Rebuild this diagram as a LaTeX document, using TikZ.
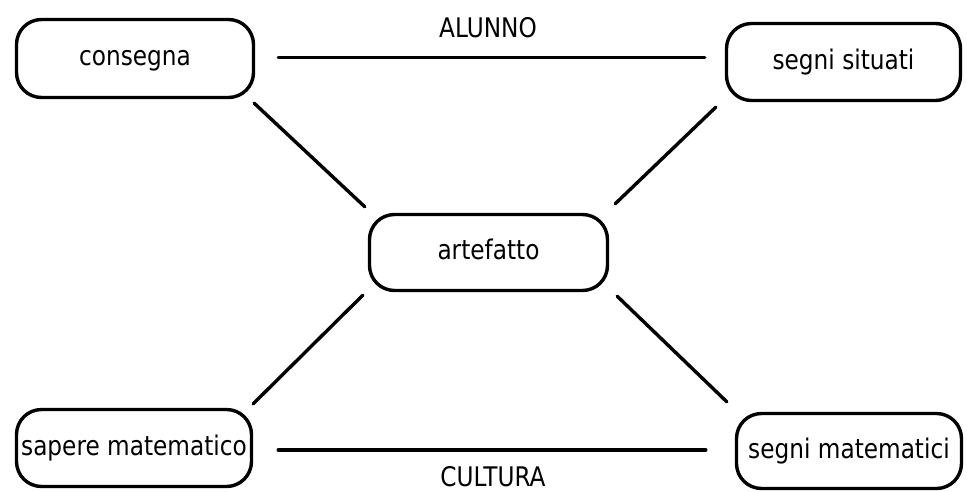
\documentclass[tikz,border=0pt]{standalone}
\usepackage{fontspec}
\setmainfont{DejaVu Sans}[FakeStretch=0.86]
\begin{document}
\begin{tikzpicture}[x=1pt,y=-1pt,
  concept/.style={draw, line width=3.4pt, rounded corners=25pt, inner sep=0pt,
    text height=14.7pt, text depth=0pt, font=\fontsize{27}{32}\selectfont},
  link/.style={line width=3.4pt, line cap=round},
  tag/.style={anchor=base, inner sep=0pt, font=\fontsize{27}{32}\selectfont}]
\useasboundingbox (0,0) rectangle (967,491);

% concept boxes
\node[concept, minimum width=237pt, minimum height=78pt] (consegna) at (135,58.5) {consegna};
\node[concept, minimum width=234pt, minimum height=77pt] (situati) at (843.5,62) {segni situati};
\node[concept, minimum width=238pt, minimum height=76pt] (artefatto) at (488.5,252.5) {artefatto};
\node[concept, minimum width=235pt, minimum height=77pt] (sapere) at (134,448) {sapere matematico};
\node[concept, minimum width=225pt, minimum height=75pt] (matematici) at (849,451) {segni matematici};

% horizontal links with their labels
\draw[link] ([shift={(23,-1)}]consegna.east) -- ([shift={(-20,-1)}]consegna.east -| situati.west);
\draw[link] ([shift={(25,2)}]sapere.east) -- ([shift={(-29,-1)}]matematici.west);
\node[tag] (alunno) at (488,37) {ALUNNO};
\node[tag] (cultura) at (493,486) {CULTURA};

% diagonal links around the artefact
\draw[link] ([shift={(-1,4)}]consegna.south east) -- ([shift={(-3,-6)}]artefatto.north west);
\draw[link] ([shift={(-9,5)}]situati.south west) -- ([shift={(6,-9)}]artefatto.north east);
\draw[link] ([shift={(-5,3)}]artefatto.south west) -- ([shift={(0,-4)}]sapere.north east);
\draw[link] ([shift={(8,4)}]artefatto.south east) -- ([shift={(-8,-10)}]matematici.north west);
\end{tikzpicture}
\end{document}
